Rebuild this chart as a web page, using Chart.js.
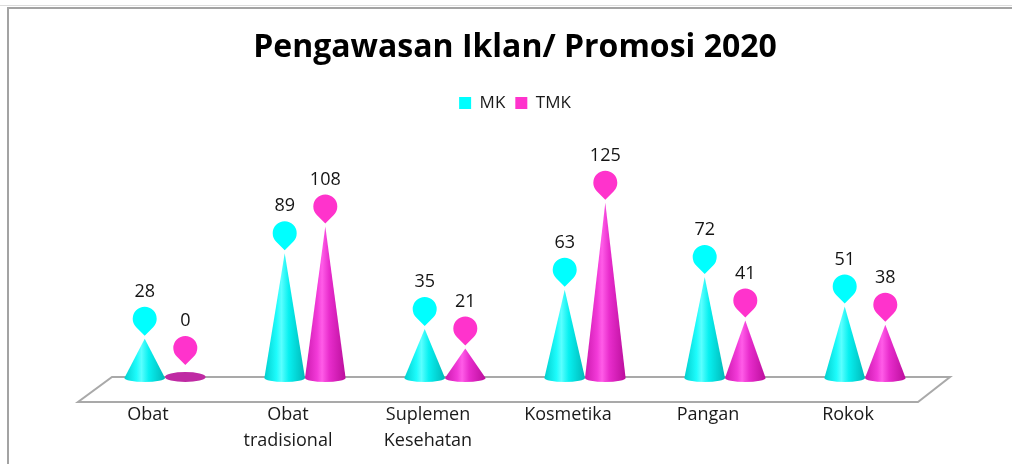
<!DOCTYPE html>
<html>
<head>
<meta charset="utf-8">
<script src="https://cdn.jsdelivr.net/npm/chart.js@4.4.1/dist/chart.umd.min.js"></script>
<style>
  html, body { margin: 0; padding: 0; background: #ffffff; }
  #wrap { position: relative; width: 1012px; height: 464px; }
  canvas { display: block; }
</style>
</head>
<body>
<div id="wrap"><canvas id="c" width="1012" height="464"></canvas></div>
<script>
// ---- data ----
const categories = ['Obat', ['Obat', 'tradisional'], ['Suplemen', 'Kesehatan'], 'Kosmetika', 'Pangan', 'Rokok'];
const seriesNames = ['MK', 'TMK'];
const mkValues = [28, 89, 35, 63, 72, 51];
const tmkValues = [0, 108, 21, 125, 41, 38];
const yMax = 183;
const titleText = 'Pengawasan Iklan/ Promosi 2020';

const FONT = "'Open Sans', 'Noto Sans', sans-serif";
const baseColors = ['#00ffff', '#ff33cc'];
const balloonColors = ['#00ffff', '#ff33cc'];
const coneStops = [
  [[0, '#00cfcf'], [0.3, '#1efcfc'], [0.42, '#5affff'], [0.6, '#08f0f0'], [1, '#00b8b8']],
  [[0, '#cc1aae'], [0.3, '#f23ad8'], [0.42, '#ff5ce8'], [0.6, '#e82ccc'], [1, '#bb0f9c']]
];

const conePlugin = {
  id: 'cones',
  beforeDatasetsDraw(chart) {
    const ctx = chart.ctx;
    const area = chart.chartArea;
    const yScale = chart.scales.y;
    const base = yScale.getPixelForValue(0);
    // floor
    ctx.save();
    ctx.beginPath();
    ctx.moveTo(area.left + 17, base - 1);
    ctx.lineTo(area.right + 15, base - 1);
    ctx.lineTo(area.right - 17, base + 24);
    ctx.lineTo(area.left - 17, base + 24);
    ctx.closePath();
    ctx.fillStyle = '#ffffff';
    ctx.fill();
    ctx.lineWidth = 2;
    ctx.strokeStyle = '#a9a9a9';
    ctx.stroke();
    ctx.restore();

    chart.data.datasets.forEach((ds, di) => {
      const meta = chart.getDatasetMeta(di);
      meta.data.forEach((el, i) => {
        const x = el.x, top = el.y, b = el.base, w = el.width;
        const hw = w / 2;
        ctx.save();
        if (b - top < 1) {
          ctx.beginPath();
          ctx.ellipse(x, b - 1, hw, 5, 0, 0, Math.PI * 2);
          ctx.fillStyle = '#bf2aa3';
          ctx.fill();
        } else {
          const g = ctx.createLinearGradient(x - hw, 0, x + hw, 0);
          coneStops[di].forEach(s => g.addColorStop(s[0], s[1]));
          ctx.beginPath();
          ctx.moveTo(x, top);
          ctx.lineTo(x + hw, b);
          ctx.ellipse(x, b, hw, 4, 0, 0, Math.PI, false);
          ctx.lineTo(x, top);
          ctx.closePath();
          ctx.fillStyle = g;
          ctx.fill();
        }
        ctx.restore();
      });
    });

    // balloons and value labels
    chart.data.datasets.forEach((ds, di) => {
      const meta = chart.getDatasetMeta(di);
      meta.data.forEach((el, i) => {
        const anchor = Math.min(el.y, el.base - 10);
        const cx = el.x, cy = anchor - 20, r = 12;
        ctx.save();
        ctx.beginPath();
        ctx.arc(cx, cy, r, 0.75 * Math.PI, 0.25 * Math.PI, false);
        ctx.lineTo(cx, cy + 17);
        ctx.closePath();
        ctx.fillStyle = balloonColors[di];
        ctx.fill();
        ctx.fillStyle = '#141414';
        ctx.font = '18px ' + FONT;
        ctx.textAlign = 'center';
        ctx.textBaseline = 'middle';
        ctx.fillText(String(ds.data[i]), cx, cy - 27);
        ctx.restore();
      });
    });
  },
  beforeDatasetDraw() { return false; }
};

const framePlugin = {
  id: 'frame',
  beforeDraw(chart) {
    const ctx = chart.ctx;
    ctx.save();
    ctx.fillStyle = '#ffffff';
    ctx.fillRect(0, 0, chart.width, chart.height);
    ctx.strokeStyle = '#dcdcdc';
    ctx.lineWidth = 1;
    ctx.beginPath();
    ctx.moveTo(0, 5.5); ctx.lineTo(chart.width, 5.5);
    ctx.stroke();
    ctx.strokeStyle = '#a3a3a3';
    ctx.lineWidth = 2;
    ctx.beginPath();
    ctx.moveTo(8, chart.height);
    ctx.lineTo(8, 8);
    ctx.lineTo(chart.width, 8);
    ctx.stroke();
    ctx.restore();
  }
};

new Chart(document.getElementById('c'), {
  type: 'bar',
  data: {
    labels: categories,
    datasets: [
      { label: seriesNames[0], data: mkValues, backgroundColor: baseColors[0], borderWidth: 0 },
      { label: seriesNames[1], data: tmkValues, backgroundColor: baseColors[1], borderWidth: 0 }
    ]
  },
  options: {
    responsive: false,
    animation: false,
    events: [],
    layout: { padding: { left: 95, right: 77, top: 0, bottom: 0 } },
    datasets: { bar: { categoryPercentage: 0.58, barPercentage: 1.0 } },
    plugins: {
      title: {
        display: true,
        text: titleText,
        color: '#000000',
        font: { family: FONT, size: 32, weight: 'bold' },
        padding: { top: 29, bottom: 17 }
      },
      legend: {
        display: true,
        position: 'top',
        labels: {
          color: '#1a1a1a',
          font: { family: FONT, size: 17 },
          boxWidth: 12,
          boxHeight: 12,
          padding: 10
        }
      },
      tooltip: { enabled: false }
    },
    scales: {
      x: {
        grid: { display: false, drawTicks: false },
        border: { display: false },
        ticks: {
          color: '#1a1a1a',
          font: { family: FONT, size: 18, lineHeight: 1.444 },
          padding: 24,
          labelOffset: -17,
          maxRotation: 0,
          autoSkip: false
        },
        afterFit(scale) { scale.height = 86; }
      },
      y: {
        display: false,
        min: 0,
        max: yMax
      }
    }
  },
  plugins: [framePlugin, conePlugin]
});
</script>
</body>
</html>
